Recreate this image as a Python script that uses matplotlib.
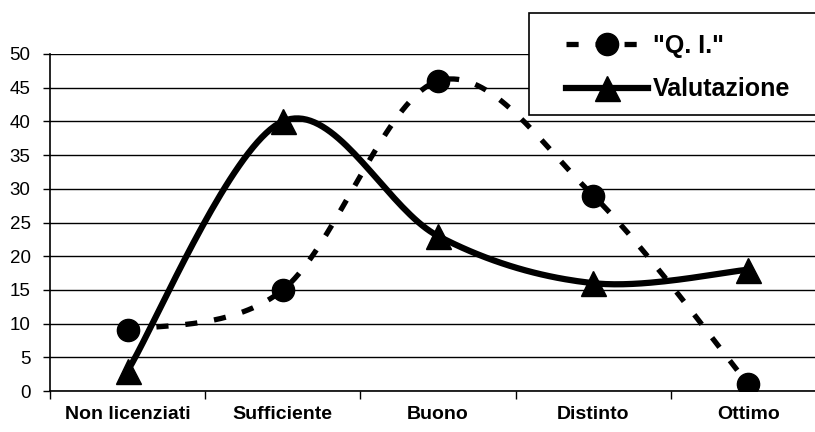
import numpy as np
import matplotlib
matplotlib.use("Agg")
import matplotlib.pyplot as plt
from matplotlib.lines import Line2D
from matplotlib.patches import Rectangle

categorie = ["Non licenziati", "Sufficiente", "Buono", "Distinto", "Ottimo"]
qi = [9, 15, 46, 29, 1]
valutazione = [3, 40, 23, 16, 18]
etichette = ['"Q. I."', "Valutazione"]

plt.rcParams["font.family"] = ["Liberation Sans", "DejaVu Sans"]


def smussa(xs, ys, n=40):
    # curva tipo Excel: bezier con punti di controllo catmull-rom
    pts = np.column_stack([xs, ys]).astype(float)
    ext = np.vstack([pts[0], pts, pts[-1]])
    out = []
    for i in range(len(pts) - 1):
        p0, p1, p2, p3 = ext[i], ext[i + 1], ext[i + 2], ext[i + 3]
        c1 = p1 + (p2 - p0) / 6
        c2 = p2 - (p3 - p1) / 6
        t = np.linspace(0, 1, n)[:, None]
        seg = (1 - t) ** 3 * p1 + 3 * (1 - t) ** 2 * t * c1 + 3 * (1 - t) * t ** 2 * c2 + t ** 3 * p2
        out.append(seg if i == 0 else seg[1:])
    return np.vstack(out)


W, H = 815, 432
fig = plt.figure(figsize=(W / 100, H / 100), dpi=100)
ax = fig.add_axes([50 / W, (H - 391) / H, 776 / W, (391 - 54) / H])

x = np.arange(len(categorie))
dash = (2.3, 3.2)

c = smussa(x, qi)
ax.plot(c[:, 0], c[:, 1], color="black", lw=3.8, dashes=dash, dash_capstyle="butt", zorder=3)
ax.plot(x, qi, "o", color="black", ms=16, zorder=4)

c = smussa(x, valutazione)
ax.plot(c[:, 0], c[:, 1], color="black", lw=4.5, solid_capstyle="round", zorder=3)
ax.plot(x, valutazione, "^", color="black", ms=18, zorder=4)

ax.set_xlim(-0.5, len(categorie) - 0.5)
ax.set_ylim(0, 50)
ax.set_yticks(range(0, 51, 5))
ax.tick_params(axis="y", labelsize=13.5, length=5, width=1, pad=9, direction="out")
ax.yaxis.grid(True, color="black", lw=1)
ax.set_axisbelow(True)

ax.set_xticks(np.arange(len(categorie) + 1) - 0.5)
ax.set_xticklabels([])
ax.set_xticks(x, minor=True)
ax.set_xticklabels(categorie, minor=True, fontsize=14, fontweight="bold")
ax.tick_params(axis="x", which="major", length=6, width=1, direction="out")
ax.tick_params(axis="x", which="minor", length=0, pad=11)

for s in ["top", "right"]:
    ax.spines[s].set_visible(False)
for s in ["left", "bottom"]:
    ax.spines[s].set_linewidth(1.2)

# riquadro della legenda
box = Rectangle((529 / W, (H - 115) / H), 300 / W, 102 / H, transform=fig.transFigure,
                facecolor="white", edgecolor="black", lw=1.2, zorder=5)
fig.add_artist(box)

h_qi = Line2D([], [], color="black", lw=3.8, dashes=dash, dash_capstyle="butt",
              marker="o", ms=16)
h_val = Line2D([], [], color="black", lw=4.5, marker="^", ms=18)
leg = fig.legend([h_qi, h_val], etichette, loc="upper left",
                 bbox_to_anchor=(548 / W, (H - 16) / H), frameon=False,
                 prop={"size": 18, "weight": "bold"}, handlelength=3.3,
                 handletextpad=0.2, labelspacing=0.8, borderpad=0.2, numpoints=1)
leg.set_zorder(6)

fig.savefig("out.png", dpi=100)
